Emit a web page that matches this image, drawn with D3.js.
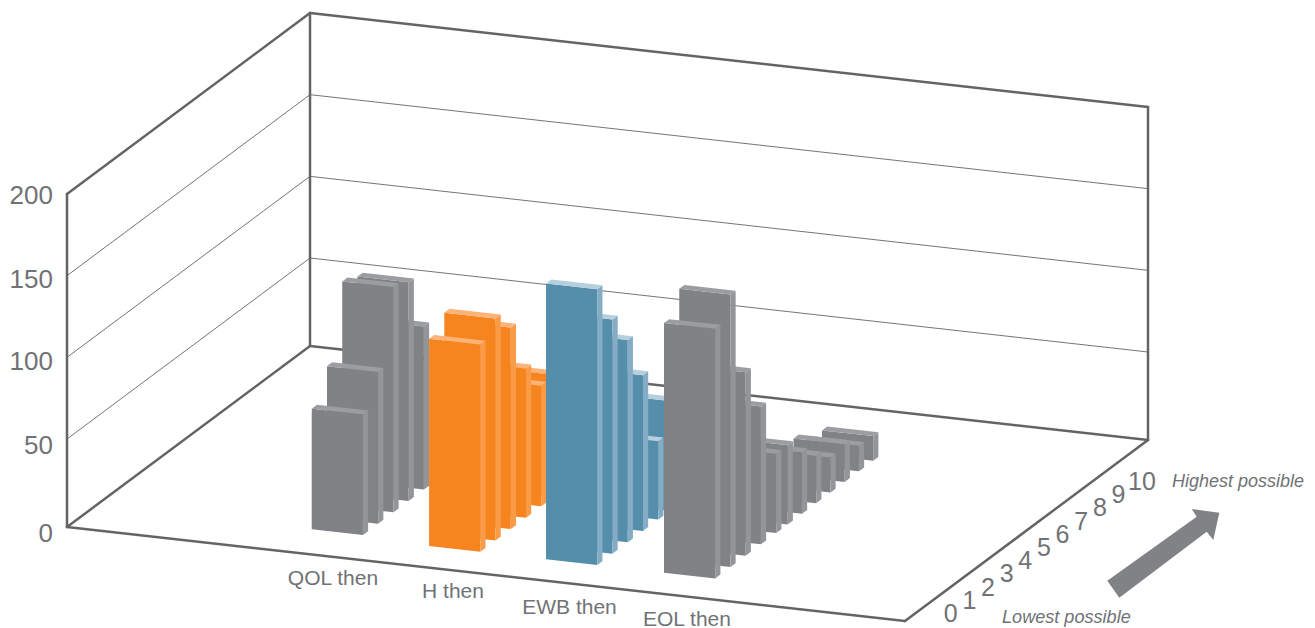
<!DOCTYPE html>
<html>
<head>
<meta charset="utf-8">
<script src="https://cdn.jsdelivr.net/npm/d3@7/dist/d3.min.js"></script>
<style>
  html, body { margin: 0; padding: 0; background: #fff; }
  svg { display: block; }
  text { font-family: "Liberation Sans", Arial, sans-serif; fill: #707275; }
</style>
</head>
<body>
<svg id="chart" width="1315" height="628"></svg>
<script>
// Satisfaction ratings by domain, shown as a 3D bar chart on an oblique floor.
const categories = ["QOL then", "H then", "EWB then", "EOL then"];
const valueTicks = [0, 50, 100, 150, 200];
const depthLabels = ["0", "1", "2", "3", "4", "5", "6", "7", "8", "9", "10"];

// Visible bars of each row, front to back.
const qolThen = [70, 89, 134, 130, 96];
const hThen   = [123, 132, 119.5, 87.5, 70, 71.5];
const ewbThen = [165, 139.5, 120, 91.5, 44.5, 63.5];
const eolThen = [149, 163, 108.5, 80.5, 45, 45, 35, 27, 20, 21.5, 14.5, 14];

const seriesValues = [qolThen, hThen, ewbThen, eolThen];
const rowPalettes = [
  { front: "#808285", side: "#939598", top: "#9b9da0" },
  { front: "#f6841f", side: "#fa9b47", top: "#fdb377" },
  { front: "#558eab", side: "#84adc5", top: "#b5cfde" },
  { front: "#808285", side: "#939598", top: "#9b9da0" }
];
const wallColor = "#636466";
const arrowColor = "#808285";

// Oblique projection: the floor is a parallelogram, heights run straight up.
const origin = [67, 527];
const acrossVec = [838, 94];
const depthVec = [243, -181];

const heightScale = d3.scaleLinear().domain([0, 50, 200]).range([0, 88, 333]);
const rowAcross = d3.scaleOrdinal(categories, [0.257, 0.402, 0.5418, 0.6828]);
const rowDepth = d3.scaleOrdinal(categories, [0.1208, 0.1037, 0.1029, 0.1021]);
const stepDepth = d3.scaleLinear().domain([0, 4, 5, 11]).range([0, 0.251, 0.2984, 0.6502]);
const tickLabelY = d3.scaleLinear().domain(valueTicks).range([533, 445, 361, 279, 195]);

const barAcross = 0.0611;
const barDepth = 0.0214;

const project = (u, d, v = 0) => [
  origin[0] + u * acrossVec[0] + d * depthVec[0],
  origin[1] + u * acrossVec[1] + d * depthVec[1] - heightScale(v)
];

const svg = d3.select("#chart");
const path = d3.line();

// Floor and walls
const wallLines = [
  [[0, 0, 0], [1, 0, 0]],
  [[1, 0, 0], [1, 1, 0]],
  [[1, 1, 0], [0, 1, 0]],
  [[0, 1, 0], [0, 0, 0]],
  [[0, 0, 0], [0, 0, 200]],
  [[0, 0, 200], [0, 1, 200]],
  [[0, 1, 200], [0, 1, 0]],
  [[0, 1, 200], [1, 1, 200]],
  [[1, 1, 200], [1, 1, 0]]
];
svg.append("g").selectAll("path").data(wallLines).join("path")
  .attr("d", s => path(s.map(p => project(...p))))
  .attr("fill", "none").attr("stroke", wallColor)
  .attr("stroke-width", 2.5).attr("stroke-linecap", "round");

// Gridlines along the left and back walls
const gridValues = valueTicks.filter(v => v > 0 && v < 200);
svg.append("g").selectAll("path").data(gridValues).join("path")
  .attr("d", v => path([project(0, 0, v), project(0, 1, v), project(1, 1, v)]))
  .attr("fill", "none").attr("stroke", wallColor).attr("stroke-width", 0.9);

// Bars, painted row by row and from the back of each row forward
const faces = (row, i, value) => {
  const u0 = rowAcross(row), u1 = u0 + barAcross;
  const d0 = rowDepth(row) + stepDepth(i), d1 = d0 + barDepth;
  return {
    front: [[u0, d0, 0], [u1, d0, 0], [u1, d0, value], [u0, d0, value]],
    side:  [[u1, d0, 0], [u1, d1, 0], [u1, d1, value], [u1, d0, value]],
    top:   [[u0, d0, value], [u1, d0, value], [u1, d1, value], [u0, d1, value]]
  };
};

categories.forEach((row, r) => {
  const palette = rowPalettes[r];
  const bars = seriesValues[r].map((v, i) => faces(row, i, v)).reverse();
  const g = svg.append("g").attr("class", "row");
  const bar = g.selectAll("g").data(bars).join("g");
  ["front", "side", "top"].forEach(face => {
    bar.append("path")
      .attr("d", b => path(b[face].map(p => project(...p))) + "Z")
      .attr("fill", palette[face]);
  });
});

// Value axis labels
svg.append("g").selectAll("text").data(valueTicks).join("text")
  .attr("x", 53).attr("y", v => tickLabelY(v))
  .attr("text-anchor", "end").attr("dominant-baseline", "central")
  .attr("font-size", 26).text(v => v);

// Row labels beneath the front edge
const rowLabelX = d3.scaleOrdinal(categories, [333, 453, 569.5, 687]);
const rowLabelY = d3.scaleOrdinal(categories, [585, 598, 614, 626]);
svg.append("g").selectAll("text").data(categories).join("text")
  .attr("x", c => rowLabelX(c)).attr("y", c => rowLabelY(c))
  .attr("text-anchor", "middle").attr("font-size", 21).text(c => c);

// Depth scale along the right floor edge
const depthLabelX = d3.scaleLinear().domain([0, 9, 10]).range([950.7, 1118.5, 1142]);
const depthLabelY = d3.scaleLinear().domain([0, 10]).range([613, 481]);
svg.append("g").selectAll("text").data(depthLabels).join("text")
  .attr("x", (_, i) => depthLabelX(i)).attr("y", (_, i) => depthLabelY(i))
  .attr("text-anchor", "middle").attr("dominant-baseline", "central")
  .attr("font-size", 25).text(d => d);

// Direction arrow with its two end captions
const arrowOutline = [
  [1107.3, 580.7], [1196.7, 516.7], [1191.7, 509], [1219.3, 512.7],
  [1213.3, 540], [1206.7, 531.7], [1119.3, 597.7]
];
svg.append("path").attr("d", path(arrowOutline) + "Z").attr("fill", arrowColor);

svg.append("text").attr("x", 1172).attr("y", 487)
  .attr("font-size", 18).attr("font-style", "italic").text("Highest possible");
svg.append("text").attr("x", 1002).attr("y", 623)
  .attr("font-size", 18.1).attr("font-style", "italic").text("Lowest possible");
</script>
</body>
</html>
